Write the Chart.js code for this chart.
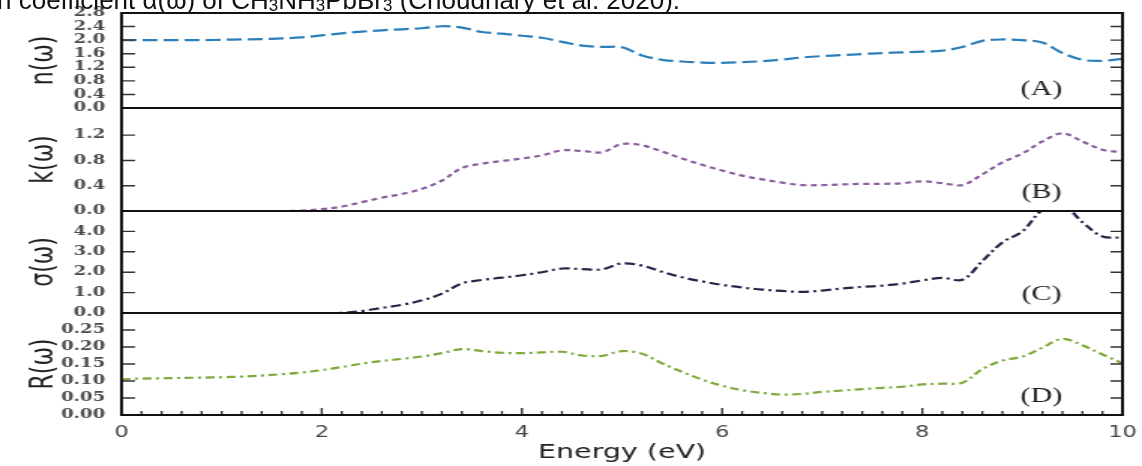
<!DOCTYPE html>
<html lang="en">

<head>
    <meta charset="UTF-8">
    <title>Optical constants</title>
    <script src="https://cdn.jsdelivr.net/npm/chart.js"></script>
    <style>
        body { margin: 0; background: #fff; }
        .janela { position: relative; width: 1142px; height: 466px; overflow: hidden; background: #fff; }
        /* the figure is drawn narrow and stretched sideways, like the scanned original */
        #grafico { position: absolute; left: 0; top: 0; }
        .legenda {
            position: absolute; left: -3px; top: -13px; white-space: nowrap;
            font: 26px/26px "Liberation Sans", Arial, sans-serif; color: #111;
        }
        .legenda sub { font-size: 65%; vertical-align: -2px; line-height: 0; }
    </style>
</head>

<body>
    <div class="janela">
        <canvas id="grafico" width="761" height="466" style="width:1142px;height:466px"></canvas>
        <div class="legenda">n coefficient α(ω) of CH<sub>3</sub>NH<sub>3</sub>PbBr<sub>3</sub> (Choudhary et al. 2020).</div>
    </div>
</body>

</html>

<script>
    // energia (eV) - grade comum a todas as curvas
    const energia = [0, 0.2, 0.4, 0.6, 0.8, 1.0, 1.2, 1.4, 1.6, 1.8,
        2.0, 2.2, 2.4, 2.6, 2.8, 3.0, 3.2, 3.4, 3.6, 3.8,
        4.0, 4.2, 4.4, 4.6, 4.8, 5.0, 5.2, 5.4, 5.6, 5.8,
        6.0, 6.2, 6.4, 6.6, 6.8, 7.0, 7.2, 7.4, 7.6, 7.8,
        8.0, 8.2, 8.4, 8.6, 8.8, 9.0, 9.2, 9.4, 9.6, 9.8, 10.0];

    // (A) indice de refracao n(w)
    const indiceN = [2.00, 2.00, 2.00, 2.00, 2.00, 2.01, 2.02, 2.03, 2.05, 2.08,
        2.14, 2.20, 2.25, 2.29, 2.32, 2.35, 2.41, 2.37, 2.24, 2.19,
        2.13, 2.07, 1.95, 1.84, 1.80, 1.79, 1.55, 1.42, 1.37, 1.34,
        1.33, 1.35, 1.38, 1.43, 1.49, 1.53, 1.56, 1.59, 1.62, 1.64,
        1.66, 1.69, 1.80, 1.98, 2.02, 2.00, 1.93, 1.62, 1.42, 1.39, 1.45];

    // (B) coeficiente de extincao k(w)
    const coefK = [0, 0, 0, 0, 0, 0, 0, 0, 0, 0.005,
        0.03, 0.07, 0.14, 0.21, 0.27, 0.35, 0.48, 0.68, 0.75, 0.79,
        0.83, 0.88, 0.96, 0.95, 0.93, 1.06, 1.04, 0.94, 0.83, 0.73,
        0.64, 0.56, 0.50, 0.45, 0.41, 0.41, 0.42, 0.43, 0.43, 0.44,
        0.47, 0.44, 0.41, 0.58, 0.77, 0.91, 1.10, 1.23, 1.10, 0.97, 0.93];

    // (C) condutividade optica sigma(w)
    const condutividade = [0, 0, 0, 0, 0, 0, 0, 0, 0, 0,
        0, 0.01, 0.10, 0.25, 0.40, 0.62, 0.95, 1.45, 1.62, 1.73,
        1.85, 2.00, 2.18, 2.15, 2.14, 2.43, 2.32, 2.02, 1.75, 1.55,
        1.38, 1.25, 1.15, 1.08, 1.04, 1.10, 1.20, 1.28, 1.34, 1.44,
        1.60, 1.72, 1.63, 2.55, 3.46, 4.00, 5.05, 5.30, 4.45, 3.75, 3.70];

    // (D) refletividade R(w)
    const refletividade = [0.105, 0.107, 0.108, 0.109, 0.110, 0.111, 0.113, 0.116, 0.120, 0.125,
        0.132, 0.141, 0.151, 0.159, 0.165, 0.172, 0.182, 0.194, 0.188, 0.183,
        0.182, 0.184, 0.186, 0.175, 0.174, 0.188, 0.180, 0.152, 0.127, 0.104,
        0.086, 0.073, 0.065, 0.060, 0.062, 0.068, 0.072, 0.076, 0.080, 0.083,
        0.090, 0.092, 0.095, 0.135, 0.160, 0.172, 0.198, 0.224, 0.205, 0.178, 0.152];

    // marcas dos eixos
    const ticksN = [0, 0.4, 0.8, 1.2, 1.6, 2.0, 2.4, 2.8];
    const ticksK = [0, 0.4, 0.8, 1.2];
    const ticksSigma = [0, 1, 2, 3, 4];
    const ticksR = [0, 0.05, 0.10, 0.15, 0.20, 0.25];
    const ticksEnergia = [0, 2, 4, 6, 8, 10];
    const passoMenor = 0.2;

    const rotulos = ['(A)', '(B)', '(C)', '(D)'];
    const titulos = ['n(ω)', 'k(ω)', 'σ(ω)', 'R(ω)'];

    function pontos(valores) {
        return energia.map(function (e, i) { return { x: e, y: valores[i] }; });
    }

    function eixoY(titulo, marcas, min, max, peso, casas) {
        return {
            type: 'linear',
            position: 'left',
            stack: 'paineis',
            stackWeight: peso,
            min: min,
            max: max,
            grid: { display: false, drawTicks: false },
            border: { display: false },
            title: {
                display: true,
                text: titulo,
                color: '#222',
                font: { family: 'DejaVu Sans', size: 22 },
                padding: { top: 16, bottom: 0 }
            },
            ticks: {
                autoSkip: false,
                padding: 11,
                color: '#4a4a4a',
                font: { family: 'DejaVu Serif', size: 12, weight: 'bold' },
                callback: function (v) { return Number(v).toFixed(casas); }
            },
            afterBuildTicks: function (escala) {
                escala.ticks = marcas.map(function (v) { return { value: v }; });
            },
            afterFit: function (escala) {
                escala.width = 81;
                escala.paddingTop = 0;
                escala.paddingBottom = 0;
            }
        };
    }

    // desenha moldura, marcas internas e rotulos (A)-(D)
    const moldura = {
        id: 'moldura',
        beforeDatasetDraw(chart, args) {
            const eixo = chart.scales[args.meta.yAxisID];
            const ctx = chart.ctx;
            ctx.save();
            ctx.beginPath();
            ctx.rect(chart.chartArea.left, eixo.top, chart.chartArea.right - chart.chartArea.left, eixo.bottom - eixo.top);
            ctx.clip();
        },
        afterDatasetDraw(chart) {
            chart.ctx.restore();
        },
        afterDraw(chart) {
            const ctx = chart.ctx;
            const area = chart.chartArea;
            const ids = ['yA', 'yB', 'yC', 'yD'];
            ctx.save();

            // marcas para dentro, dos dois lados
            ctx.strokeStyle = '#333';
            ctx.lineWidth = 1.4;
            ids.forEach(function (id) {
                const eixo = chart.scales[id];
                eixo.ticks.forEach(function (t) {
                    const y = eixo.getPixelForValue(t.value);
                    ctx.beginPath();
                    ctx.moveTo(area.left, y); ctx.lineTo(area.left + 9, y);
                    ctx.moveTo(area.right, y); ctx.lineTo(area.right - 8, y);
                    ctx.stroke();
                });
            });

            const ex = chart.scales.x;
            for (let v = 0; v <= 10.0001; v += passoMenor) {
                const x = ex.getPixelForValue(v);
                const maior = Math.abs(v / 2 - Math.round(v / 2)) < 0.001;
                ctx.beginPath();
                ctx.moveTo(x, area.bottom);
                ctx.lineTo(x, area.bottom - (maior ? 7 : 4));
                ctx.stroke();
            }

            // moldura de cada painel
            ctx.strokeStyle = '#111';
            ctx.lineWidth = 2;
            ids.forEach(function (id) {
                const eixo = chart.scales[id];
                ctx.strokeRect(area.left, eixo.top, area.right - area.left, eixo.bottom - eixo.top);
            });

            // rotulos dos paineis
            ctx.fillStyle = '#1a1a1a';
            ctx.font = '20px "Liberation Serif", "Times New Roman", serif';
            ctx.textAlign = 'center';
            ctx.textBaseline = 'middle';
            ids.forEach(function (id, i) {
                const eixo = chart.scales[id];
                ctx.fillText(rotulos[i], area.right - 54, eixo.bottom - 18);
            });
            ctx.restore();
        }
    };

    function serie(rotulo, valores, eixo, cor, traco) {
        return {
            label: rotulo,
            data: pontos(valores),
            yAxisID: eixo,
            borderColor: cor,
            borderWidth: 2.2,
            borderDash: traco,
            pointRadius: 0,
            tension: 0.35,
            fill: false
        };
    }

    const config = {
        type: 'line',
        data: {
            datasets: [
                serie('n', indiceN, 'yA', '#2c7fbb', [10, 4]),
                serie('k', coefK, 'yB', '#8b5e9f', [4, 3]),
                serie('sigma', condutividade, 'yC', '#25254a', [7, 3, 2, 3]),
                serie('R', refletividade, 'yD', '#7eaa3c', [6, 3, 2, 3])
            ]
        },
        options: {
            responsive: false,
            devicePixelRatio: 1,
            animation: false,
            layout: { padding: { top: 13, right: 13, left: 0, bottom: 0 } },
            plugins: { legend: { display: false }, tooltip: { enabled: false } },
            scales: {
                x: {
                    type: 'linear',
                    min: 0,
                    max: 10,
                    grid: { display: false, drawTicks: false },
                    border: { display: false },
                    ticks: {
                        autoSkip: false,
                        padding: 9,
                        color: '#444',
                        font: { family: 'DejaVu Sans', size: 15 }
                    },
                    afterBuildTicks: function (escala) {
                        escala.ticks = ticksEnergia.map(function (v) { return { value: v }; });
                    },
                    title: {
                        display: true,
                        text: 'Energy (eV)',
                        color: '#222',
                        font: { family: 'DejaVu Sans', size: 19 },
                        padding: { top: 0, bottom: 2 }
                    },
                    afterFit: function (escala) {
                        escala.height = 51;
                        escala.paddingLeft = 0;
                        escala.paddingRight = 0;
                    }
                },
                yD: eixoY(titulos[3], ticksR, 0, 0.30, 102, 2),
                yC: eixoY(titulos[2], ticksSigma, 0, 5.0, 102, 1),
                yB: eixoY(titulos[1], ticksK, 0, 1.63, 103, 1),
                yA: eixoY(titulos[0], ticksN, 0, 2.8, 95, 1)
            }
        },
        plugins: [moldura]
    };

    new Chart(document.getElementById('grafico'), config);
</script>
